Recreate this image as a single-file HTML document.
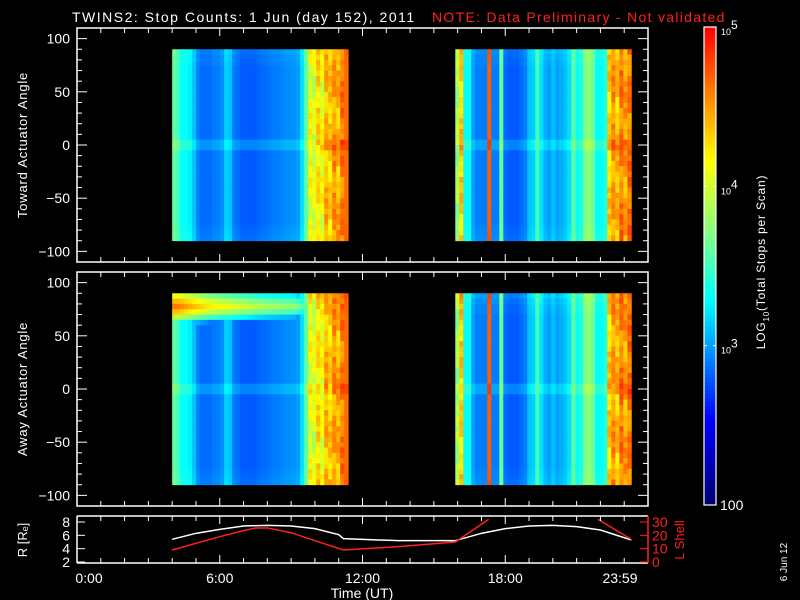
<!DOCTYPE html>
<html><head><meta charset="utf-8"><style>
html,body{margin:0;padding:0;background:#000;}
svg text{font-family:"Liberation Sans",sans-serif;}
</style></head><body>
<svg id="chart" width="800" height="600" xmlns="http://www.w3.org/2000/svg" style="display:block;background:#000">
<text x="72" y="22" fill="#fff" font-size="14" letter-spacing="1.5">TWINS2: Stop Counts:  1 Jun (day 152), 2011</text>
<text x="432" y="22" fill="#ff2020" font-size="14" letter-spacing="1.3">NOTE: Data Preliminary - Not validated</text>
<g id="g"></g>
</svg>
<script>
// ---- data ----
const block1Start = 4.0, block1End = 11.4;
const block2Start = 15.9, block2End = 23.3;
const block1Log = [3.6,3.5,3.3,3.3,3.25,3.1,2.9,2.85,2.85,2.85,2.9,2.9,2.95,3.15,3.1,2.9,2.85,2.8,2.8,2.8,2.8,2.82,2.85,2.85,2.88,2.9,2.9,2.92,2.95,2.95,2.97,3.0,3.2,3.6,4.1,4.0,4.25,4.1,4.4,4.3,4.5,4.4,4.6,4.65];
const block2Log = [3.8,4.3,3.3,3.3,3.0,2.9,2.9,2.9,4.7,2.9,2.9,3.6,2.85,2.8,2.8,2.8,2.85,2.9,3.1,3.15,3.5,3.2,3.05,3.0,3.1,3.0,3.05,3.1,3.2,3.6,3.3,3.4,3.7,3.75,3.6,3.3,3.3,3.4,4.3,4.5,4.35,4.6,4.45,4.6];
const angleEdges = [90,85,80,75,70,65,60,55,50,45,40,35,30,25,20,15,10,5,0,-5,-10,-15,-20,-25,-30,-35,-40,-45,-50,-55,-60,-65,-70,-75,-80,-85,-90];
const towardProfile = [0.05,0.03,0.02,0,0,0,0,0,0,0,0,0,0,0,0,0,0,0.12,0.12,0,0,0,0,0,0,0,0,0,0,0,0,0,0,0.02,0.03,0.05];
const awayProfile = [0.1,0.06,0.03,0.02,0,0,0,0,0,0,0,0,0,0,0,0,0,0.12,0.12,0,0,0,0,0,0,0,0,0,0,0,0,0,0,0.02,0.03,0.05];
const awayBandLevel = [4.6,4.6,4.55,4.5,4.45,4.4,4.35,4.3,4.25,4.2,4.18,4.15,4.12,4.1,4.08,4.05,4.02,4.0,3.98,3.95,3.92,3.9,3.88,3.86,3.85,3.84,3.82,3.8,3.8,3.78,3.76,3.7,3.6,0,0,0,0,0,0,0,0,0,0,0];
const awayBandDrop = [0.5,0.2,0,0.25,0.7,1.3];
const noiseJitter = [0.3,-0.4,0.1,0.35,-0.2,0.0,-0.35,0.25,0.15,-0.1,0.4,-0.3,0.05,0.2,-0.25,0.3,-0.05,0.1,-0.4,0.35,0.0,-0.15,0.25,-0.3,0.1,0.4,-0.2,0.15,-0.35,0.05,0.3,-0.1,0.2,-0.25,0.35,-0.05];
const rHours = [4.0,5.0,6.0,7.0,8.0,9.0,10.0,11.0,11.2,13.5,15.9,17.0,18.0,19.0,20.0,21.0,22.0,23.3];
const rValues = [5.4,6.3,6.9,7.4,7.5,7.4,7.0,6.1,5.5,5.2,5.2,6.3,7.0,7.4,7.5,7.3,6.8,5.3];
const lHours = [4.0,5.0,6.0,7.0,7.5,8.0,9.0,10.0,11.2,13.5,15.9,17.3];
const lValues = [9,14,19,23.5,25.5,25.5,22,16,9,11.5,15,32];
const lHours2 = [21.9,23.3];
const lValues2 = [32,17];
const yTicks = [-100,-50,0,50,100];
const hourTicks = ["0:00","6:00","12:00","18:00","23:59"];
const hourTickVals = [0,6,12,18,24];
const rTicks = [2,4,6,8];
const lTicks = [0,10,20,30];
const cbTickVals = [3,4];

// ---- layout ----
const NS="http://www.w3.org/2000/svg";
const G=document.getElementById('g');
const X0=77,X1=648;
const xs=h=>X0+(X1-X0)*h/24;
const panels=[{top:28,bot:262,name:'toward',label:'Toward Actuator Angle',profile:towardProfile},
              {top:272,bot:506,name:'away',label:'Away Actuator Angle',profile:awayProfile}];
function mk(tag,attrs,parent){const e=document.createElementNS(NS,tag);for(const k in attrs)e.setAttribute(k,attrs[k]);(parent||G).appendChild(e);return e;}
const stops=[[0,[0,0,110]],[0.18,[0,0,255]],[0.3,[0,125,255]],[0.43,[0,255,255]],[0.57,[130,255,130]],[0.72,[255,255,0]],[0.86,[255,130,0]],[1,[255,0,0]]];
function cmap(v){let t=Math.max(0,Math.min(1,(v-2)/3));for(let i=1;i<stops.length;i++){if(t<=stops[i][0]){const a=stops[i-1],b=stops[i];const f=(t-a[0])/(b[0]-a[0]);const c=a[1].map((x,j)=>Math.round(x+(b[1][j]-x)*f));return `rgb(${c})`;}}return 'rgb(255,0,0)';}

panels.forEach((p,pi)=>{
  const ys=a=>p.top+(p.bot-p.top)*(110-a)/220;
  const grp=mk('g',{});
  
  
  [[block1Log,block1Start,block1End,0],[block2Log,block2Start,block2End,1]].forEach(([vals,hs,he,bi])=>{
    const n=vals.length, w=(xs(he)-xs(hs))/n;
    for(let c=0;c<n;c++){
      for(let r=0;r<angleEdges.length-1;r++){
        let v=vals[c]+p.profile[r];
        if(vals[c]>3.75&&vals[c]<4.65) v+=0.45*noiseJitter[(r*5+c*7+pi*3)%noiseJitter.length];
        if(pi===1&&bi===0&&r<awayBandDrop.length&&awayBandLevel[c]>0) v=Math.max(v,awayBandLevel[c]-awayBandDrop[r]);
        const y1=ys(angleEdges[r]),y2=ys(angleEdges[r+1]);
        const cell=mk('rect',{x:(xs(hs)+c*w).toFixed(2),y:y1.toFixed(2),width:(w+0.4).toFixed(2),height:(y2-y1+0.4).toFixed(2),fill:cmap(v)},grp);
        
        
      }
    }
  });
  const fr=mk('rect',{x:X0,y:p.top,width:X1-X0,height:p.bot-p.top,fill:'none',stroke:'#fff','stroke-width':1.5});
  
  
  for(let a=-110;a<=110;a+=10){
    const y=ys(a),L=(a%50===0)?10:5;
    mk('line',{x1:X0,x2:X0+L,y1:y,y2:y,stroke:'#fff'});
    mk('line',{x1:X1-L,x2:X1,y1:y,y2:y,stroke:'#fff'});
  }
  yTicks.forEach(a=>{
    const t=mk('text',{x:70,y:ys(a)+5,fill:'#fff','font-size':14,'text-anchor':'end'});
    t.textContent=a===0?'0':(a<0?'\u2212'+(-a):String(a));
    
    
  });
  for(let h=1;h<24;h++){
    const x=xs(h),L=(h%6===0)?8:5;
    mk('line',{x1:x,x2:x,y1:p.bot,y2:p.bot-L,stroke:'#fff'});
    mk('line',{x1:x,x2:x,y1:p.top,y2:p.top+L,stroke:'#fff'});
  }
  const yl=mk('text',{x:0,y:0,fill:'#fff','font-size':13,'text-anchor':'middle','letter-spacing':0.8,transform:`translate(27,${(p.top+p.bot)/2}) rotate(-90)`});
  yl.textContent=p.label;
  
  
});

// ---- orbit panel ----
const OT=516,OB=563;
const ry=v=>562-(v-2)*(40/6);
const ly=v=>562-v*(40/30);
const cp=mk('clipPath',{id:'oc'});mk('rect',{x:X0,y:OT,width:X1-X0,height:OB-OT},cp);
const rpath=mk('polyline',{points:rHours.map((h,i)=>xs(h)+','+ry(rValues[i])).join(' '),fill:'none',stroke:'#fff','stroke-width':1.5,'clip-path':'url(#oc)'});


const lpath=mk('polyline',{points:lHours.map((h,i)=>xs(h)+','+ly(lValues[i])).join(' '),fill:'none',stroke:'#ff2020','stroke-width':1.5,'clip-path':'url(#oc)'});


const lpath2=mk('polyline',{points:lHours2.map((h,i)=>xs(h)+','+ly(lValues2[i])).join(' '),fill:'none',stroke:'#ff2020','stroke-width':1.5,'clip-path':'url(#oc)'});


mk('line',{x1:X0,x2:X1,y1:OT,y2:OT,stroke:'#fff','stroke-width':1.5});
mk('line',{x1:X0,x2:X1,y1:OB,y2:OB,stroke:'#fff','stroke-width':1.5});
mk('line',{x1:X0,x2:X0,y1:OT,y2:OB,stroke:'#fff','stroke-width':1.5});
mk('line',{x1:X1,x2:X1,y1:OT,y2:OB,stroke:'#ff2020','stroke-width':1.5});
for(let h=1;h<24;h++){const x=xs(h),L=(h%6===0)?8:5;
  mk('line',{x1:x,x2:x,y1:OB,y2:OB-L,stroke:'#fff'});mk('line',{x1:x,x2:x,y1:OT,y2:OT+L,stroke:'#fff'});}
rTicks.forEach(v=>{mk('line',{x1:X0,x2:X0+8,y1:ry(v),y2:ry(v),stroke:'#fff'});
  const t=mk('text',{x:70,y:ry(v)+5,fill:'#fff','font-size':14,'text-anchor':'end'});t.textContent=v;
  
  });
lTicks.forEach(v=>{mk('line',{x1:X1-8,x2:X1,y1:ly(v),y2:ly(v),stroke:'#ff2020'});
  const t=mk('text',{x:652,y:ly(v)+5,fill:'#ff2020','font-size':14});t.textContent=v;
  
  });
const rl=mk('text',{x:0,y:0,fill:'#fff','font-size':13,'text-anchor':'middle',transform:'translate(27,540) rotate(-90)'});
rl.textContent='R [R\u2091]';


const ll=mk('text',{x:0,y:0,fill:'#ff2020','font-size':13,'text-anchor':'middle',transform:'translate(684,540) rotate(-90)'});
ll.textContent='L Shell';


hourTicks.forEach((s,i)=>{const t=mk('text',{x:xs(hourTickVals[i])+(i===0?12:(i===4?-28:0)),y:583,fill:'#fff','font-size':14,'text-anchor':'middle'});t.textContent=s;
  
  });
const xt=mk('text',{x:362,y:598,fill:'#fff','font-size':14,'text-anchor':'middle'});xt.textContent='Time (UT)';


const dt=mk('text',{x:0,y:0,fill:'#fff','font-size':10,'text-anchor':'middle',transform:'translate(787,562) rotate(-90)'});dt.textContent='6 Jun 12';



// ---- colorbar ----
const CT=27,CB=505,CX=704,CW=12;
const cy=v=>CB-(CB-CT)*(v-2)/3;
const cbg=mk('g',{});


for(let i=0;i<120;i++){const v=2+3*i/120;mk('rect',{x:CX,y:cy(v+3/120),width:CW,height:(CB-CT)/120+0.5,fill:cmap(v+1.5/120)},cbg);}
mk('rect',{x:CX,y:CT,width:CW,height:CB-CT,fill:'none',stroke:'#fff','stroke-width':1.2},cbg);
cbTickVals.forEach(v=>{mk('line',{x1:CX,x2:CX+3,y1:cy(v),y2:cy(v),stroke:'#fff'},cbg);mk('line',{x1:CX+CW-3,x2:CX+CW,y1:cy(v),y2:cy(v),stroke:'#fff'},cbg);});
[[5,'5'],[4,'4'],[3,'3']].forEach(([v,e])=>{const t=mk('text',{x:721,y:cy(v)+8,fill:'#fff','font-size':9},cbg);t.textContent='10';
  const s=mk('tspan',{dy:-6,'font-size':12},t);s.textContent=e;
  
  });
const c100=mk('text',{x:720,y:510,fill:'#fff','font-size':14},cbg);c100.textContent='100';


const ct=mk('text',{x:0,y:0,fill:'#fff','font-size':12,'text-anchor':'middle','letter-spacing':0.8,transform:'translate(765,262) rotate(-90)'},cbg);
ct.textContent='LOG';const sb=mk('tspan',{dy:4,'font-size':8},ct);sb.textContent='10';const rest=mk('tspan',{dy:-4},ct);rest.textContent='(Total Stops per Scan)';


</script>
</body></html>
